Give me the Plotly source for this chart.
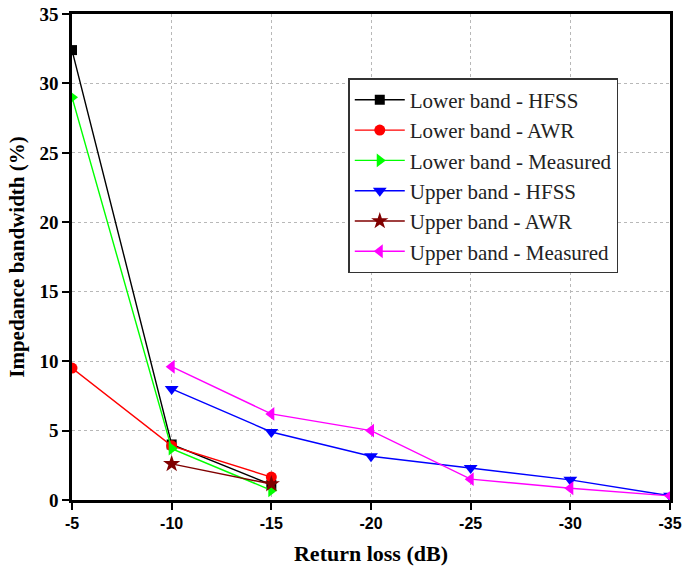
import plotly.graph_objects as go

# Data
x_lower = [-5, -10, -15]
lower_hfss = [32.4, 4.0, 1.1]
lower_awr = [9.5, 3.9, 1.65]
lower_meas = [29.0, 3.7, 0.7]

x_upper = [-10, -15, -20, -25, -30, -35]
upper_hfss = [8.0, 4.9, 3.15, 2.3, 1.45, 0.3]
x_upper_awr = [-10, -15]
upper_awr = [2.6, 1.15]
upper_meas = [9.6, 6.2, 5.0, 1.5, 0.85, 0.3]

x_ticks = [-5, -10, -15, -20, -25, -30, -35]
y_ticks = [0, 5, 10, 15, 20, 25, 30, 35]

series = [
    ("Lower band - HFSS", x_lower, lower_hfss, "#000000", "square", 10),
    ("Lower band - AWR", x_lower, lower_awr, "#ff0000", "circle", 11),
    ("Lower band - Measured", x_lower, lower_meas, "#00ff00", "triangle-right", 12),
    ("Upper band - HFSS", x_upper, upper_hfss, "#0000ff", "triangle-down", 12),
    ("Upper band - AWR", x_upper_awr, upper_awr, "#800000", "star", 13),
    ("Upper band - Measured", x_upper, upper_meas, "#ff00ff", "triangle-left", 12),
]

fig = go.Figure()
for name, xs, ys, color, sym, size in series:
    fig.add_trace(go.Scatter(
        x=xs, y=ys, name=name, mode="lines+markers",
        line=dict(color=color, width=1.4),
        marker=dict(symbol=sym, size=size, color=color),
    ))

serif = "Liberation Serif, Times New Roman, serif"
sans = "Liberation Sans, Arial, sans-serif"

fig.update_layout(
    width=685, height=575,
    margin=dict(l=72, r=15, t=14, b=75),
    paper_bgcolor="white", plot_bgcolor="white",
    showlegend=True,
    legend=dict(
        x=0.462, y=0.868, xanchor="left", yanchor="top",
        bordercolor="#333", borderwidth=1.5,
        font=dict(family=serif, size=21, color="#222"),
        bgcolor="white", itemwidth=50, tracegroupgap=0,
    ),
)
fig.update_xaxes(
    range=[-5, -35], tickvals=x_ticks, ticktext=[str(v) for v in x_ticks],
    automargin=False, ticklabeloverflow="allow",
    showline=True, linecolor="black", linewidth=2.5, mirror=True,
    ticks="outside", ticklen=7, tickwidth=2, tickcolor="black",
    showgrid=True, gridcolor="#b8b8b8", gridwidth=1, griddash="dot",
    zeroline=False,
    tickfont=dict(family=sans, size=16, color="black", weight="bold"),
    title=dict(text="<b>Return loss (dB)</b>", font=dict(family=serif, size=22, color="black"), standoff=15),
)
fig.update_yaxes(
    range=[0, 35], tickvals=y_ticks,
    automargin=False, ticklabeloverflow="allow",
    showline=True, linecolor="black", linewidth=2.5, mirror=True,
    ticks="outside", ticklen=7, tickwidth=2, tickcolor="black",
    showgrid=True, gridcolor="#b8b8b8", gridwidth=1, griddash="dot",
    zeroline=False,
    tickfont=dict(family=serif, size=19, color="black", weight="bold"),
    title=dict(text="<b>Impedance bandwidth (%)</b>", font=dict(family=serif, size=21, color="black"), standoff=10),
)

# remove the default 8px page margin so the figure fills the window exactly
fig.write_html(
    "out.html",
    config={"displayModeBar": False},
    post_script="document.body.style.margin='0';document.body.style.overflow='hidden';",
)
